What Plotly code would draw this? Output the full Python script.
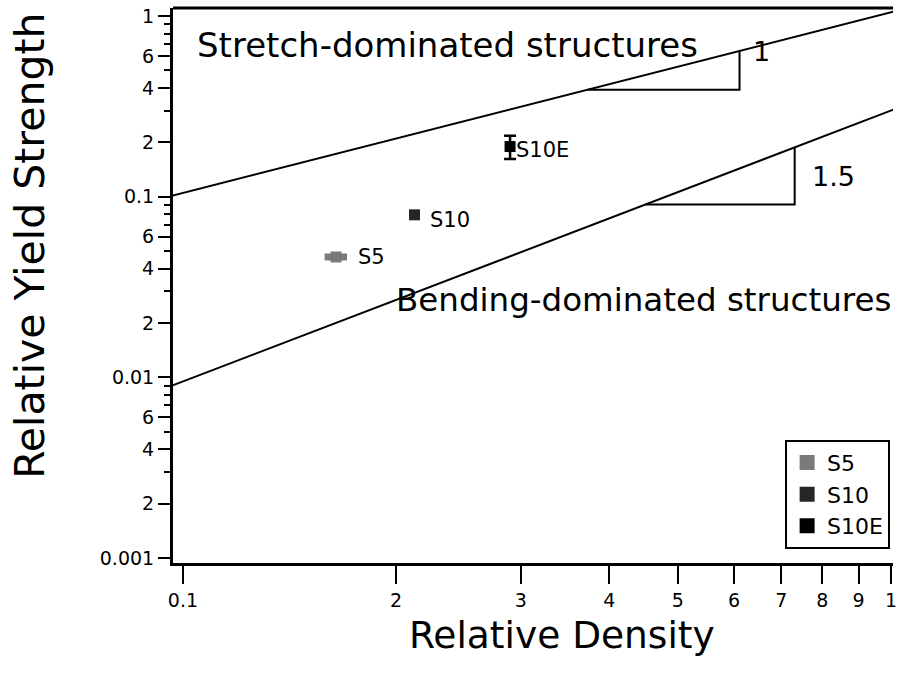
import numpy as np
import plotly.graph_objects as go

# samples
samples = ["S5", "S10", "S10E"]
density = [0.1645, 0.2123, 0.2897]
strength = [0.0464, 0.0794, 0.1896]
strength_err = [0.0, 0.0, 0.028]
density_err = [0.006, 0.0, 0.004]
sample_colors = ["#7a7a7a", "#262626", "#000000"]

# scaling laws  sigma = C * rho^n
stretch_C, stretch_n = 1.05, 1.0
bend_C, bend_n = 0.30, 1.5
line_rho = [0.09, 1.1]

# slope triangles (x extents)
stretch_tri = [0.373, 0.611]
bend_tri = [0.450, 0.731]

xtick_vals = [0.1, 0.2, 0.3, 0.4, 0.5, 0.6, 0.7, 0.8, 0.9, 1]
xtick_text = ["0.1", "2", "3", "4", "5", "6", "7", "8", "9", "1"]
ytick_vals = [0.001, 0.002, 0.004, 0.006, 0.01, 0.02, 0.04, 0.06, 0.1, 0.2, 0.4, 0.6, 1]
ytick_text = ["0.001", "2", "4", "6", "0.01", "2", "4", "6", "0.1", "2", "4", "6", "1"]
yminor = [0.003, 0.005, 0.007, 0.008, 0.009, 0.03, 0.05, 0.07, 0.08, 0.09,
          0.3, 0.5, 0.7, 0.8, 0.9]

FONT = "DejaVu Sans"


def law(C, n, xs):
    return [C * x ** n for x in xs]


def note(text, x, y, size, **kw):
    fig.add_annotation(x=x, y=y, xref="paper", yref="paper", text=text, showarrow=False,
                       xanchor="center", yanchor="middle",
                       font=dict(family=FONT, size=size, color="black"), **kw)


fig = go.Figure()

# guide lines
for C, n in [(stretch_C, stretch_n), (bend_C, bend_n)]:
    fig.add_trace(go.Scatter(
        x=line_rho, y=law(C, n, line_rho), mode="lines",
        line=dict(color="black", width=2), showlegend=False, hoverinfo="skip",
    ))

# slope triangles
for (C, n), tri in [((stretch_C, stretch_n), stretch_tri), ((bend_C, bend_n), bend_tri)]:
    y0, y1 = law(C, n, tri)
    fig.add_trace(go.Scatter(
        x=[tri[0], tri[1], tri[1]], y=[y0, y0, y1], mode="lines",
        line=dict(color="black", width=2), showlegend=False, hoverinfo="skip",
    ))

# data points
for name, x, y, ey, ex, c in zip(samples, density, strength, strength_err, density_err, sample_colors):
    fig.add_trace(go.Scatter(
        x=[x], y=[y], mode="markers",
        marker=dict(symbol="square", size=11, color=c),
        error_y=dict(type="data", array=[ey], color="black", thickness=2.5, width=6, visible=ey > 0),
        error_x=dict(type="data", array=[ex], color=c, thickness=7, width=0, visible=ex > 0),
        showlegend=False,
    ))
    fig.add_annotation(x=np.log10(x), y=np.log10(y), text=name, showarrow=False,
                       xanchor="left", yanchor="middle",
                       xshift={"S5": 20, "S10": 14, "S10E": 4}[name],
                       yshift={"S5": 0, "S10": -5, "S10E": -3}[name],
                       font=dict(family=FONT, size=21, color="black"))

# legend entries
for name, c in zip(samples, sample_colors):
    fig.add_trace(go.Scatter(
        x=[None], y=[None], mode="markers", name=name,
        marker=dict(symbol="square", size=15, color=c),
    ))

note("Stretch-dominated structures", 0.381, 0.933, 34)
note("Bending-dominated structures", 0.653, 0.474, 32.5)
note("1", 0.818, 0.921, 27)
note("1.5", 0.917, 0.697, 27)
note("Relative Density", 0.54, -0.13, 37.5)
note("Relative Yield Strength", -0.199, 0.571, 41, textangle=-90)

# top frame line
fig.add_shape(type="line", xref="paper", yref="paper", x0=0, x1=1, y0=1, y1=1,
              line=dict(color="black", width=3))

fig.update_layout(
    width=901, height=679,
    margin=dict(l=173, r=8, t=8, b=116),
    paper_bgcolor="white", plot_bgcolor="white",
    font=dict(family=FONT, color="black", size=19),
    legend=dict(x=0.996, y=0.222, xanchor="right", yanchor="top",
                bordercolor="black", borderwidth=2, bgcolor="white",
                font=dict(family=FONT, size=22), itemsizing="trace",
                tracegroupgap=4),
)
fig.update_xaxes(
    type="log", range=[-1.0141, 0.0028], automargin=False,
    tickvals=xtick_vals, ticktext=xtick_text,
    ticks="outside", ticklen=18, tickwidth=2, tickcolor="black",
    showline=True, linecolor="black", linewidth=3,
    showgrid=False, zeroline=False,
    tickfont=dict(family=FONT, size=19),
)
fig.update_yaxes(
    type="log", range=[-3.028, 0.045], automargin=False,
    tickvals=ytick_vals, ticktext=ytick_text,
    ticks="outside", ticklen=12, tickwidth=2, tickcolor="black",
    minor=dict(tickvals=yminor, ticks="outside", ticklen=6, tickwidth=2, tickcolor="black"),
    showline=True, linecolor="black", linewidth=3,
    showgrid=False, zeroline=False,
    tickfont=dict(family=FONT, size=19),
)

fig.write_html("out.html", config={"displayModeBar": False},
               post_script="document.body.style.margin='0';")
